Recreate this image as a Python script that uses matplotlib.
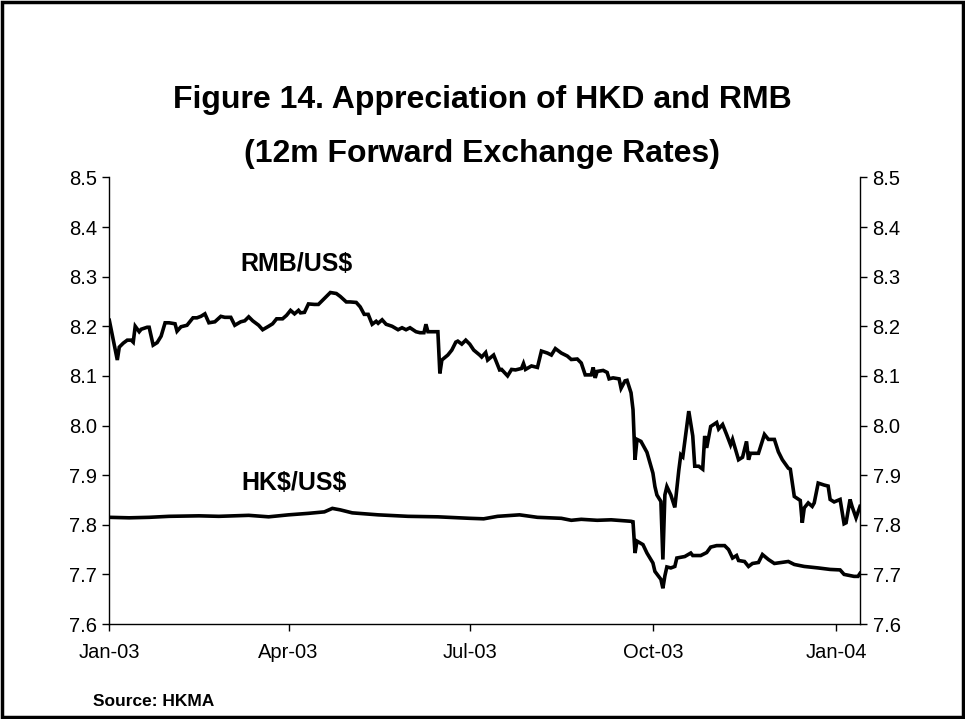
from datetime import datetime
import matplotlib
matplotlib.use('Agg')
import matplotlib.pyplot as plt
import matplotlib.dates as mdates
from matplotlib.patches import Rectangle

plt.rcParams['font.family'] = ['Liberation Sans', 'DejaVu Sans']

# RMB/US$ 12m forward
rmb_dates = ['2003-01-01', '2003-01-03', '2003-01-05', '2003-01-06', '2003-01-08', '2003-01-10',
             '2003-01-12', '2003-01-13', '2003-01-14', '2003-01-16', '2003-01-17', '2003-01-20',
             '2003-01-21', '2003-01-23', '2003-01-25', '2003-01-27', '2003-01-29', '2003-01-31',
             '2003-02-03', '2003-02-04', '2003-02-06', '2003-02-09', '2003-02-12', '2003-02-14',
             '2003-02-16', '2003-02-18', '2003-02-20', '2003-02-23', '2003-02-26', '2003-02-28',
             '2003-03-03', '2003-03-05', '2003-03-08', '2003-03-10', '2003-03-12', '2003-03-14',
             '2003-03-17', '2003-03-19', '2003-03-22', '2003-03-24', '2003-03-26', '2003-03-29',
             '2003-03-31', '2003-04-02', '2003-04-04', '2003-04-06', '2003-04-07', '2003-04-09',
             '2003-04-11', '2003-04-14', '2003-04-16', '2003-04-19', '2003-04-22', '2003-04-25',
             '2003-04-27', '2003-04-30', '2003-05-02', '2003-05-05', '2003-05-07', '2003-05-09',
             '2003-05-11', '2003-05-13', '2003-05-15', '2003-05-16', '2003-05-18', '2003-05-20',
             '2003-05-23', '2003-05-26', '2003-05-28', '2003-05-30', '2003-06-01', '2003-06-04',
             '2003-06-06', '2003-06-08', '2003-06-09', '2003-06-10', '2003-06-13', '2003-06-15',
             '2003-06-16', '2003-06-17', '2003-06-20', '2003-06-22', '2003-06-24', '2003-06-25',
             '2003-06-27', '2003-06-29', '2003-07-01', '2003-07-03', '2003-07-06', '2003-07-07',
             '2003-07-09', '2003-07-10', '2003-07-13', '2003-07-16', '2003-07-17', '2003-07-20',
             '2003-07-22', '2003-07-24', '2003-07-27', '2003-07-28', '2003-07-29', '2003-08-01',
             '2003-08-04', '2003-08-06', '2003-08-09', '2003-08-11', '2003-08-13', '2003-08-16',
             '2003-08-19', '2003-08-21', '2003-08-24', '2003-08-26', '2003-08-28', '2003-08-31',
             '2003-09-01', '2003-09-02', '2003-09-03', '2003-09-06', '2003-09-08', '2003-09-09',
             '2003-09-11', '2003-09-14', '2003-09-15', '2003-09-17', '2003-09-18', '2003-09-20',
             '2003-09-21', '2003-09-22', '2003-09-23', '2003-09-25', '2003-09-28', '2003-10-01',
             '2003-10-02', '2003-10-03', '2003-10-05', '2003-10-06', '2003-10-07', '2003-10-08',
             '2003-10-10', '2003-10-12', '2003-10-14', '2003-10-15', '2003-10-16', '2003-10-19',
             '2003-10-21', '2003-10-22', '2003-10-24', '2003-10-26', '2003-10-27', '2003-10-28',
             '2003-10-30', '2003-11-02', '2003-11-03', '2003-11-05', '2003-11-07', '2003-11-09',
             '2003-11-10', '2003-11-13', '2003-11-15', '2003-11-17', '2003-11-18', '2003-11-19',
             '2003-11-23', '2003-11-26', '2003-11-28', '2003-12-01', '2003-12-03', '2003-12-05',
             '2003-12-08', '2003-12-09', '2003-12-11', '2003-12-14', '2003-12-15', '2003-12-16',
             '2003-12-18', '2003-12-20', '2003-12-21', '2003-12-23', '2003-12-26', '2003-12-28',
             '2003-12-29', '2003-12-31', '2004-01-03', '2004-01-05', '2004-01-06', '2004-01-08',
             '2004-01-09', '2004-01-11', '2004-01-13']
rmb = [8.212, 8.172, 8.132, 8.158, 8.166, 8.172,
       8.172, 8.168, 8.200, 8.189, 8.194, 8.198,
       8.198, 8.162, 8.167, 8.180, 8.207, 8.207,
       8.205, 8.190, 8.199, 8.202, 8.217, 8.217,
       8.220, 8.225, 8.207, 8.209, 8.220, 8.218,
       8.218, 8.202, 8.209, 8.211, 8.219, 8.211,
       8.202, 8.193, 8.200, 8.205, 8.215, 8.215,
       8.222, 8.232, 8.225, 8.232, 8.227, 8.228,
       8.245, 8.244, 8.244, 8.256, 8.268, 8.266,
       8.260, 8.249, 8.249, 8.248, 8.239, 8.224,
       8.224, 8.204, 8.210, 8.206, 8.213, 8.204,
       8.200, 8.193, 8.197, 8.193, 8.197, 8.189,
       8.187, 8.187, 8.204, 8.189, 8.189, 8.189,
       8.105, 8.132, 8.142, 8.152, 8.168, 8.170,
       8.164, 8.172, 8.164, 8.152, 8.142, 8.138,
       8.147, 8.132, 8.142, 8.112, 8.113, 8.100,
       8.113, 8.112, 8.115, 8.125, 8.113, 8.120,
       8.117, 8.150, 8.146, 8.142, 8.155, 8.146,
       8.140, 8.133, 8.134, 8.126, 8.102, 8.102,
       8.117, 8.096, 8.109, 8.111, 8.107, 8.094,
       8.096, 8.094, 8.075, 8.090, 8.091, 8.066,
       8.032, 7.931, 7.972, 7.968, 7.946, 7.904,
       7.877, 7.860, 7.847, 7.730, 7.860, 7.877,
       7.860, 7.835, 7.910, 7.941, 7.937, 8.029,
       7.979, 7.918, 7.918, 7.912, 7.979, 7.955,
       7.998, 8.006, 7.993, 8.002, 7.982, 7.961,
       7.972, 7.931, 7.936, 7.968, 7.931, 7.944,
       7.944, 7.982, 7.972, 7.972, 7.947, 7.931,
       7.914, 7.912, 7.857, 7.849, 7.804, 7.834,
       7.844, 7.837, 7.844, 7.884, 7.880, 7.878,
       7.851, 7.846, 7.851, 7.802, 7.804, 7.851,
       7.837, 7.814, 7.837]

# HK$/US$ 12m forward
hkd_dates = ['2003-01-01', '2003-01-11', '2003-01-21', '2003-01-31', '2003-02-15', '2003-02-25',
             '2003-03-12', '2003-03-22', '2003-04-01', '2003-04-11', '2003-04-19', '2003-04-23',
             '2003-04-27', '2003-05-03', '2003-05-16', '2003-05-31', '2003-06-15', '2003-07-01',
             '2003-07-08', '2003-07-15', '2003-07-26', '2003-08-04', '2003-08-16', '2003-08-21',
             '2003-08-26', '2003-09-03', '2003-09-10', '2003-09-20', '2003-09-21', '2003-09-22',
             '2003-09-23', '2003-09-26', '2003-09-28', '2003-10-01', '2003-10-02', '2003-10-05',
             '2003-10-06', '2003-10-07', '2003-10-08', '2003-10-10', '2003-10-12', '2003-10-13',
             '2003-10-17', '2003-10-20', '2003-10-21', '2003-10-25', '2003-10-28', '2003-10-30',
             '2003-11-02', '2003-11-06', '2003-11-08', '2003-11-10', '2003-11-12', '2003-11-13',
             '2003-11-16', '2003-11-18', '2003-11-20', '2003-11-23', '2003-11-25', '2003-11-28',
             '2003-12-01', '2003-12-08', '2003-12-11', '2003-12-16', '2003-12-23', '2003-12-29',
             '2004-01-03', '2004-01-05', '2004-01-10', '2004-01-12', '2004-01-13']
hkd = [7.815, 7.814, 7.815, 7.817, 7.818, 7.817,
       7.819, 7.816, 7.820, 7.823, 7.826, 7.833,
       7.830, 7.824, 7.820, 7.817, 7.816, 7.813,
       7.812, 7.817, 7.820, 7.815, 7.813, 7.809,
       7.811, 7.809, 7.810, 7.807, 7.806, 7.743,
       7.767, 7.760, 7.743, 7.723, 7.706, 7.690,
       7.672, 7.697, 7.715, 7.713, 7.716, 7.733,
       7.736, 7.743, 7.738, 7.738, 7.744, 7.755,
       7.758, 7.758, 7.750, 7.733, 7.738, 7.728,
       7.726, 7.716, 7.722, 7.724, 7.740, 7.730,
       7.722, 7.726, 7.720, 7.716, 7.713, 7.710,
       7.709, 7.700, 7.696, 7.696, 7.702]

tick_dates = ['2003-01-01', '2003-04-01', '2003-07-01', '2003-10-01', '2004-01-01']
yticks = [7.6, 7.7, 7.8, 7.9, 8.0, 8.1, 8.2, 8.3, 8.4, 8.5]


def to_dt(lst):
    return [datetime.strptime(d, '%Y-%m-%d') for d in lst]


fig = plt.figure(figsize=(9.65, 7.19), dpi=100)
ax = fig.add_axes([0.1133, 0.1321, 0.7779, 0.6212])

ax.plot(to_dt(rmb_dates), rmb, color='black', lw=2.6, solid_joinstyle='miter')
ax.plot(to_dt(hkd_dates), hkd, color='black', lw=2.6, solid_joinstyle='miter')

ax.set_xlim(datetime(2003, 1, 1), datetime(2004, 1, 13))
ax.set_ylim(7.6, 8.5)
ax.set_yticks(yticks)
ax.yaxis.set_major_formatter(plt.FormatStrFormatter('%.1f'))
ax.set_xticks(to_dt(tick_dates))
ax.xaxis.set_major_formatter(mdates.DateFormatter('%b-%y'))

ax.spines['top'].set_visible(False)
for s in ['left', 'right', 'bottom']:
    ax.spines[s].set_linewidth(1.0)
ax.tick_params(axis='y', left=True, right=True, labelleft=True, labelright=True,
               direction='out', length=5, width=1, labelsize=14.5, pad=4)
ax.tick_params(axis='x', direction='out', length=5, width=1, labelsize=14.5, pad=9)

# series labels
ax.text(datetime(2003, 4, 5), 8.325, r'RMB/US\$', fontsize=18, fontweight='bold',
        ha='center', va='center')
ax.text(datetime(2003, 4, 4), 7.884, r'HK\$/US\$', fontsize=18, fontweight='bold',
        ha='center', va='center')

fig.text(0.5, 1 - 100 / 719, 'Figure 14. Appreciation of HKD and RMB', fontsize=23,
         fontweight='bold', ha='center', va='center')
fig.text(0.5, 1 - 154 / 719, '(12m Forward Exchange Rates)', fontsize=23,
         fontweight='bold', ha='center', va='center')
fig.text(93 / 965, 1 - 702 / 719, 'Source: HKMA', fontsize=12.5, fontweight='bold',
         ha='left', va='center')

# outer frame
fig.add_artist(Rectangle((0.002, 0.003), 0.996, 0.994, transform=fig.transFigure,
                         fill=False, lw=2.5, ec='black'))

fig.savefig('out.png', dpi=100)
